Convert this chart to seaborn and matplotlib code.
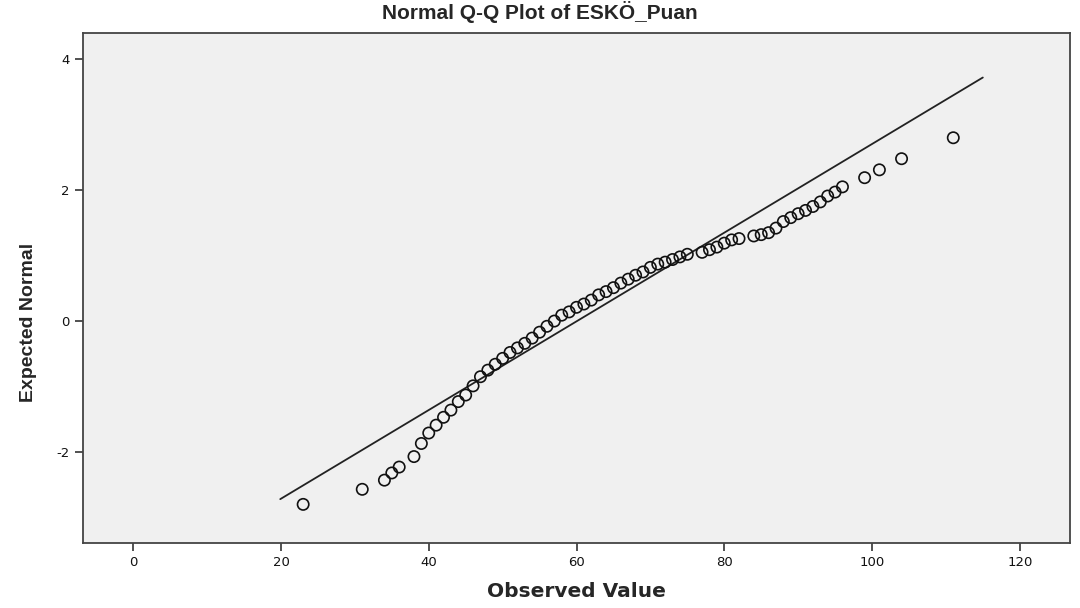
import numpy as np
import pandas as pd
import matplotlib
matplotlib.use('Agg')
import matplotlib.pyplot as plt
import seaborn as sns

# ---------------------------
# Data
# ---------------------------
observed = [23, 31, 34, 35, 36, 38, 39, 40, 41, 42, 43, 44, 45, 46, 47, 48,
            49, 50, 51, 52, 53, 54, 55, 56, 57, 58, 59, 60, 61, 62, 63, 64,
            65, 66, 67, 68, 69, 70, 71, 72, 73, 74, 75, 77, 78, 79, 80, 81,
            82, 84, 85, 86, 87, 88, 89, 90, 91, 92, 93, 94, 95, 96, 99, 101,
            104, 111]
expected = [-2.80, -2.57, -2.43, -2.32, -2.23, -2.07, -1.87, -1.71, -1.59,
            -1.47, -1.36, -1.23, -1.13, -0.99, -0.85, -0.75, -0.66, -0.57,
            -0.48, -0.41, -0.34, -0.26, -0.17, -0.08, 0.00, 0.09, 0.14, 0.21,
            0.26, 0.32, 0.40, 0.45, 0.51, 0.58, 0.64, 0.70, 0.75, 0.82, 0.87,
            0.90, 0.94, 0.98, 1.02, 1.05, 1.09, 1.13, 1.19, 1.24, 1.26, 1.30,
            1.32, 1.35, 1.42, 1.52, 1.58, 1.64, 1.69, 1.75, 1.82, 1.91, 1.97,
            2.05, 2.19, 2.31, 2.48, 2.80]

# reference line endpoints
line_x = [19.9, 115.0]
line_y = [-2.72, 3.72]

x_ticks = [0, 20, 40, 60, 80, 100, 120]
y_ticks = [-2, 0, 2, 4]

points = pd.DataFrame({'observed': observed, 'expected': expected})
ref = pd.DataFrame({'x': line_x, 'y': line_y})

# ---------------------------
# Plot
# ---------------------------
sns.set_style('ticks')
plt.rcParams['font.family'] = ['Liberation Sans', 'DejaVu Sans']
plt.rcParams['axes.unicode_minus'] = False

fig = plt.figure(figsize=(10.8, 6.08), dpi=100)
ax = fig.add_axes([83 / 1080, 1 - 543 / 608, (1070 - 83) / 1080, (543 - 33) / 608])
ax.set_facecolor('#f0f0f0')

sns.lineplot(data=ref, x='x', y='y', color='#222222', linewidth=1.3, ax=ax)
sns.scatterplot(data=points, x='observed', y='expected', marker='o',
                s=66, facecolor='none', edgecolor='#111111', linewidth=1.2,
                ax=ax, zorder=3)

ax.set_xlim(-6.8, 126.8)
ax.set_ylim(-3.39, 4.40)
ax.set_xticks(x_ticks)
ax.set_yticks(y_ticks)

for s in ax.spines.values():
    s.set_color('#444444')
    s.set_linewidth(1.3)
ax.tick_params(direction='out', length=6, width=1.2, color='#333333',
               labelsize=10, labelcolor='#111111')
for lab in ax.get_xticklabels() + ax.get_yticklabels():
    lab.set_family(['DejaVu Sans'])
    lab.set_fontsize(9.5)

fig.text(0.5, 1 - 12 / 608, 'Normal Q-Q Plot of ESKÖ_Puan', fontsize=15,
         fontweight='bold', ha='center', va='center')
ax.set_xlabel('Observed Value', fontsize=14.5, fontweight='bold',
              family=['DejaVu Sans'], labelpad=9)
ax.set_ylabel('Expected Normal', fontsize=14, fontweight='bold',
              family=['Liberation Sans Narrow', 'Liberation Sans'])
ax.yaxis.set_label_coords(-0.047, 0.433)

plt.savefig('out.png', dpi=100)
